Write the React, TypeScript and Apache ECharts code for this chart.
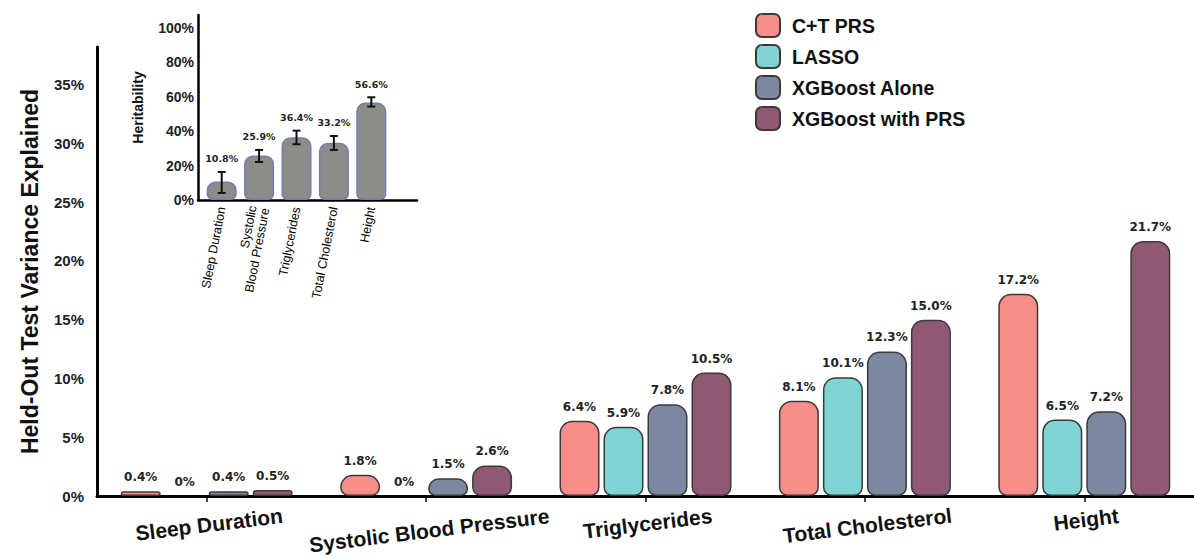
import React, { useEffect, useRef } from 'react';
import * as echarts from 'echarts';

const categories = ['Sleep Duration', 'Systolic Blood Pressure', 'Triglycerides', 'Total Cholesterol', 'Height'];
const seriesNames = ['C+T PRS', 'LASSO', 'XGBoost Alone', 'XGBoost with PRS'];
const ctPrs = [0.4, 1.8, 6.4, 8.1, 17.2];
const lasso = [0, 0, 5.9, 10.1, 6.5];
const xgbAlone = [0.4, 1.5, 7.8, 12.3, 7.2];
const xgbWithPrs = [0.5, 2.6, 10.5, 15.0, 21.7];
const seriesColors = ['#F98D87', '#7ED5D4', '#7C88A0', '#8F5875'];

const insetCategories = ['Sleep Duration', 'Systolic\nBlood Pressure', 'Triglycerides', 'Total Cholesterol', 'Height'];
const heritability = [10.8, 25.9, 36.4, 33.2, 56.6];
const heritabilityLow = [4.1, 22.1, 32.4, 29.1, 54.3];
const heritabilityHigh = [16.3, 29.1, 40.3, 37.2, 59.7];

const LABEL_PAD = [9, 15, 8, 10, 4];

const fmt = (v: number) => (v === 0 ? '0%' : v.toFixed(1) + '%');

export default function App() {
  const ref = useRef<HTMLDivElement>(null);
  useEffect(() => {
    if (!ref.current) return;
    const chart = echarts.init(ref.current, undefined, { renderer: 'svg' });
    const allSeries = [ctPrs, lasso, xgbAlone, xgbWithPrs];
    const mainSeries = allSeries.map((arr, si) => ({
      name: seriesNames[si],
      type: 'bar',
      xAxisIndex: 0,
      yAxisIndex: 0,
      barWidth: 40,
      barGap: '10%',
      itemStyle: {
        color: seriesColors[si],
        borderColor: '#3a3a3a',
        borderWidth: 1.5,
        borderRadius: [12, 12, 8, 8],
      },
      label: {
        show: true,
        position: 'top',
        distance: 8,
        formatter: (p: any) => fmt(p.value),
        fontFamily: 'DejaVu Sans',
        fontWeight: 'bold',
        fontSize: 12,
        color: '#222',
      },
      data: arr.map((v) => (v === 0 ? { value: v, itemStyle: { borderWidth: 0 } } : v)),
    }));

    const option: any = {
      animation: false,
      legend: {
        orient: 'vertical',
        left: 755,
        top: 13,
        padding: 0,
        itemWidth: 24,
        itemHeight: 23,
        itemGap: 6,
        icon: 'roundRect',
        data: seriesNames,
        textStyle: {
          fontFamily: 'Liberation Sans',
          fontWeight: 'bold',
          fontSize: 19.5,
          color: '#111',
          padding: [0, 0, 0, 7],
        },
      },
      grid: [
        { left: 97, width: 1100, top: 47, bottom: 63 },
        { left: 203, width: 187, top: 15, bottom: 359 },
        { left: 198, width: 219, top: 15, bottom: 359 },
      ],
      xAxis: [
        {
          type: 'category',
          gridIndex: 0,
          data: categories.map((c, i) => ({
            value: c,
            textStyle: {
              align: 'center',
              verticalAlign: 'top',
              padding: [LABEL_PAD[i], 0, 0, 0],
            },
          })),
          axisLine: { lineStyle: { color: '#000', width: 3 } },
          axisTick: { show: true, alignWithLabel: true, length: 6, lineStyle: { color: '#000', width: 1.5 } },
          axisLabel: {
            interval: 0,
            rotate: 7,
            margin: 9,
            fontFamily: 'Liberation Sans',
            fontWeight: 'bold',
            fontSize: 21,
            color: '#111',
          },
        },
        {
          type: 'category',
          gridIndex: 1,
          data: insetCategories,
          axisLine: { show: false },
          axisTick: { show: false },
          axisLabel: {
            interval: 0,
            rotate: 79,
            margin: 7,
            fontFamily: 'Liberation Sans',
            fontSize: 12.5,
            lineHeight: 13,
            color: '#000',
          },
        },
        {
          type: 'value',
          gridIndex: 2,
          min: 0,
          max: 1,
          axisLine: { show: true, onZero: false, lineStyle: { color: '#000', width: 2.5 } },
          axisTick: { show: false },
          axisLabel: { show: false },
          splitLine: { show: false },
        },
      ],
      yAxis: [
        {
          type: 'value',
          gridIndex: 0,
          min: 0,
          max: 38.2,
          interval: 5,
          axisLine: { show: true, lineStyle: { color: '#000', width: 3 } },
          axisTick: { show: false },
          splitLine: { show: false },
          axisLabel: {
            showMaxLabel: false,
            margin: 13,
            formatter: (v: number) => v + '%',
            fontFamily: 'Liberation Sans',
            fontWeight: 'bold',
            fontSize: 15,
            color: '#222',
          },
          name: 'Held-Out Test Variance Explained',
          nameLocation: 'middle',
          nameRotate: 90,
          nameGap: 56,
          nameTextStyle: {
            fontFamily: 'Liberation Sans',
            fontWeight: 'bold',
            fontSize: 23,
            color: '#111',
          },
        },
        {
          type: 'value',
          gridIndex: 1,
          min: 0,
          max: 107.5,
          interval: 20,
          offset: 5,
          axisLine: { show: true, lineStyle: { color: '#000', width: 2.5 } },
          axisTick: { show: false },
          splitLine: { show: false },
          axisLabel: {
            showMaxLabel: false,
            margin: 4,
            formatter: (v: number) => v + '%',
            fontFamily: 'Liberation Sans',
            fontWeight: 'bold',
            fontSize: 14,
            color: '#222',
          },
          name: 'Heritability',
          nameLocation: 'middle',
          nameRotate: 90,
          nameGap: 53,
          nameTextStyle: {
            fontFamily: 'Liberation Sans',
            fontWeight: 'bold',
            fontSize: 14,
            color: '#111',
          },
        },
        { type: 'value', gridIndex: 2, show: false, min: 0, max: 1 },
      ],
      series: [
        ...mainSeries,
        {
          name: 'Heritability',
          type: 'bar',
          xAxisIndex: 1,
          yAxisIndex: 1,
          barWidth: 30,
          itemStyle: {
            color: '#8C8C89',
            borderColor: '#6F7FAE',
            borderWidth: 1.5,
            borderRadius: [8, 8, 5, 5],
          },
          data: heritability,
        },
        {
          name: 'HeritabilityError',
          type: 'custom',
          xAxisIndex: 1,
          yAxisIndex: 1,
          z: 10,
          data: heritability.map((_, i) => [i, heritabilityLow[i], heritabilityHigh[i]]),
          renderItem: (params: any, api: any) => {
            const x = api.value(0);
            const lo = api.coord([x, api.value(1)]);
            const hi = api.coord([x, api.value(2)]);
            const w = 4;
            const st = { stroke: '#111', lineWidth: 2 };
            return {
              type: 'group',
              children: [
                { type: 'line', shape: { x1: lo[0], y1: lo[1], x2: hi[0], y2: hi[1] }, style: st },
                { type: 'line', shape: { x1: lo[0] - w, y1: lo[1], x2: lo[0] + w, y2: lo[1] }, style: st },
                { type: 'line', shape: { x1: hi[0] - w, y1: hi[1], x2: hi[0] + w, y2: hi[1] }, style: st },
                {
                  type: 'text',
                  x: hi[0],
                  y: hi[1] - 8,
                  style: {
                    text: fmt(heritability[params.dataIndex]),
                    fill: '#222',
                    fontFamily: 'DejaVu Sans',
                    fontWeight: 'bold',
                    fontSize: 9.5,
                    align: 'center',
                    verticalAlign: 'bottom',
                  },
                },
              ],
            };
          },
        },
      ],
    };
    chart.setOption(option);
    return () => chart.dispose();
  }, []);
  return (
    <div
      ref={ref}
      style={{ position: 'absolute', left: 0, top: 0, width: 1194, height: 559, background: '#fff' }}
    />
  );
}
